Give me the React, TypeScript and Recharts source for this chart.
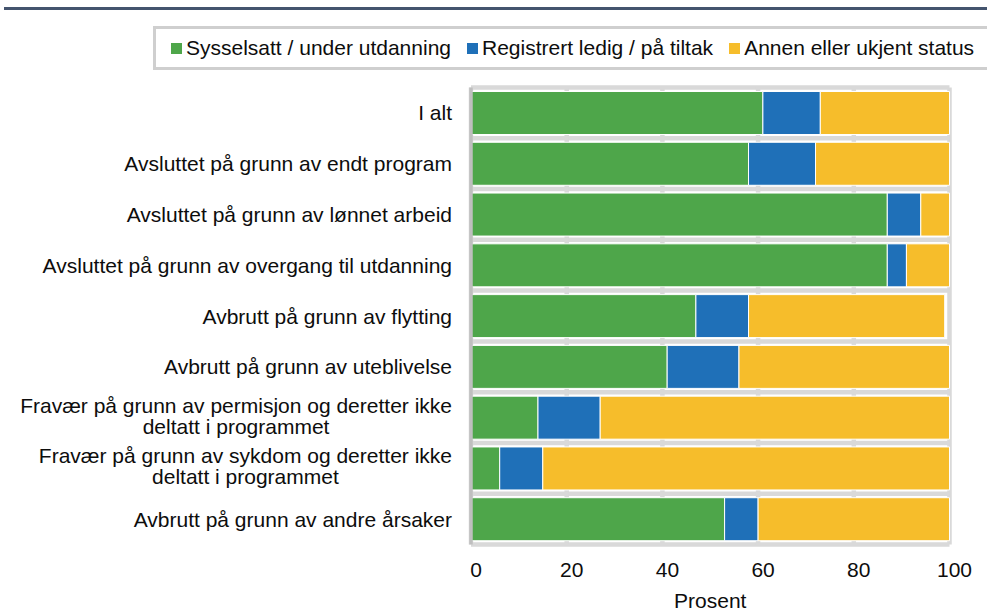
import React from 'react';
import { BarChart, Bar, XAxis, YAxis, CartesianGrid } from 'recharts';

const categories = [
    'I alt',
    'Avsluttet på grunn av endt program',
    'Avsluttet på grunn av lønnet arbeid',
    'Avsluttet på grunn av overgang til utdanning',
    'Avbrutt på grunn av flytting',
    'Avbrutt på grunn av uteblivelse',
    'Fravær på grunn av permisjon og deretter ikke\ndeltatt i programmet',
    'Fravær på grunn av sykdom og deretter ikke\ndeltatt i programmet',
    'Avbrutt på grunn av andre årsaker',
];

const employed = [61, 58, 87, 87, 47, 41, 14, 6, 53];
const registered = [12, 14, 7, 4, 11, 15, 13, 9, 7];
const other = [27, 28, 6, 9, 41, 44, 73, 85, 40];

const xTicks = [0, 20, 40, 60, 80, 100];

const SERIES = [
    { key: 'employed', name: 'Sysselsatt / under utdanning', color: '#4EA64A' },
    { key: 'registered', name: 'Registrert ledig / på tiltak', color: '#1F70B8' },
    { key: 'other', name: 'Annen eller ukjent status', color: '#F6BD2B' },
];

const FONT = '"Liberation Sans", Arial, sans-serif';
const FONT_SIZE = 21;

const data = categories.map((name, i) => ({
    name,
    employed: employed[i],
    registered: registered[i],
    other: other[i],
}));

let ctx: CanvasRenderingContext2D | null = null;
const measure = (s: string) => {
    if (!ctx) ctx = document.createElement('canvas').getContext('2d');
    if (!ctx) return s.length * FONT_SIZE * 0.5;
    ctx.font = `${FONT_SIZE}px ${FONT}`;
    return ctx.measureText(s).width;
};

const CategoryTick = (props: any) => {
    const { x, y, payload } = props;
    const lines = String(payload.value).split('\n');
    if (lines.length === 1) {
        return (
            <text x={x} y={y} dy={7.5} textAnchor="end" fontSize={FONT_SIZE} fontFamily={FONT} fill="#0d0d0d">
                {lines[0]}
            </text>
        );
    }
    // block is right-aligned, lines centred inside it
    const maxW = Math.max(...lines.map(measure));
    const cx = x - maxW / 2;
    return (
        <g>
            {lines.map((l, i) => (
                <text key={i} x={cx} y={y - 5 + i * 21} textAnchor="middle" fontSize={FONT_SIZE} fontFamily={FONT} fill="#0d0d0d">
                    {l}
                </text>
            ))}
        </g>
    );
};

const ValueTick = (props: any) => {
    const { x, y, payload } = props;
    return (
        <text x={x + 5} y={y} dy={15} textAnchor="middle" fontSize={FONT_SIZE} fontFamily={FONT} fill="#0d0d0d">
            {payload.value}
        </text>
    );
};

const LegendBox: React.FC = () => (
    <div
        style={{
            position: 'absolute',
            left: 153,
            top: 26,
            width: 860,
            height: 44,
            boxSizing: 'border-box',
            border: '3px solid #cfcfcf',
            display: 'flex',
            alignItems: 'center',
            paddingLeft: 15,
            fontSize: FONT_SIZE,
            color: '#0d0d0d',
        }}
    >
        {SERIES.map((s) => (
            <div key={s.key} style={{ display: 'flex', alignItems: 'center', marginRight: 16 }}>
                <span style={{ width: 11, height: 11, background: s.color, marginRight: 4, display: 'inline-block' }} />
                <span style={{ whiteSpace: 'nowrap' }}>{s.name}</span>
            </div>
        ))}
    </div>
);

const App: React.FC = () => {
    return (
        <div
            style={{
                position: 'absolute',
                left: 0,
                top: 0,
                width: 987,
                height: 611,
                overflow: 'hidden',
                background: '#fff',
                fontFamily: FONT,
            }}
        >
            <div style={{ position: 'absolute', left: 4, top: 7, width: 983, height: 3, background: '#44546E' }} />
            <BarChart
                width={987}
                height={611}
                data={data}
                layout="vertical"
                margin={{ top: 87.5, right: 37.5, bottom: 0, left: 0 }}
                barSize={43}
            >
                <CartesianGrid
                    stroke="#d9d9d9"
                    strokeWidth={4.5}
                    horizontalCoordinatesGenerator={({ offset }: any) =>
                        Array.from({ length: categories.length + 1 }, (_, i) => offset.top + (i * offset.height) / categories.length)
                    }
                />
                <XAxis
                    type="number"
                    domain={[0, 100]}
                    ticks={xTicks}
                    axisLine={false}
                    tickLine={false}
                    tickSize={0}
                    tickMargin={17.5}
                    height={66.5}
                    tick={<ValueTick />}
                    label={{ value: 'Prosent', position: 'insideBottom', offset: 3, fontSize: FONT_SIZE, fill: '#0d0d0d', fontFamily: FONT }}
                />
                <YAxis
                    type="category"
                    dataKey="name"
                    width={471}
                    axisLine={{ stroke: '#bfbfbf', strokeWidth: 3.5 }}
                    tickLine={false}
                    tickSize={0}
                    tickMargin={19}
                    interval={0}
                    tick={<CategoryTick />}
                />
                {SERIES.map((s) => (
                    <Bar
                        key={s.key}
                        dataKey={s.key}
                        name={s.name}
                        stackId="a"
                        fill={s.color}
                        stroke="#ffffff"
                        strokeWidth={1}
                        isAnimationActive={false}
                    />
                ))}
            </BarChart>
            <LegendBox />
        </div>
    );
};

export default App;
